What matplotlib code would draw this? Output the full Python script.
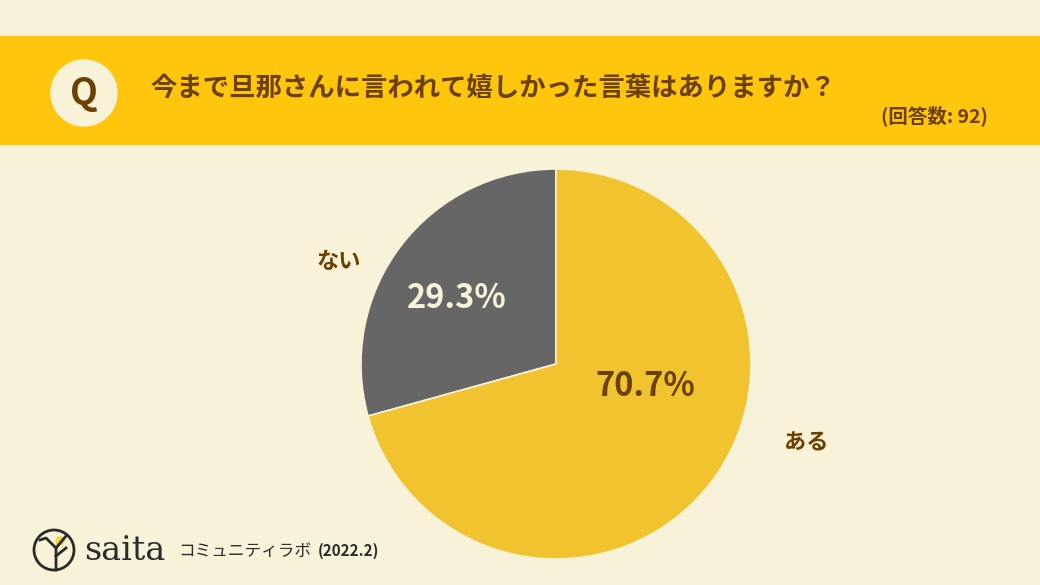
import matplotlib
matplotlib.use("Agg")
import matplotlib.pyplot as plt
from matplotlib.patches import Rectangle, Circle

plt.rcParams['font.family'] = ['Noto Sans CJK JP', 'DejaVu Sans']

# data
labels = ['ない', 'ある']
values = [29.3, 70.7]
colors = ['#666666', '#F0C32F']
title = '今まで旦那さんに言われて嬉しかった言葉はありますか？'
n_answers = '(回答数: 92)'
source = 'コミュニティラボ'
date = '(2022.2)'

W, H = 1040, 585
bg = '#F7F2D8'
brown = '#6B4000'

fig = plt.figure(figsize=(W / 100, H / 100), dpi=100, facecolor=bg)
ax = fig.add_axes([0, 0, 1, 1])
ax.set_xlim(0, W)
ax.set_ylim(0, H)
ax.set_aspect('equal')
ax.axis('off')


def Y(y):
    # pixel from top -> data y
    return H - y


# banner
ax.add_patch(Rectangle((0, Y(144)), W, 108, color='#FFC60D', zorder=1))
ax.add_patch(Circle((84, Y(93)), 33, color=bg, zorder=2))
ax.text(84, Y(93), 'Q', ha='center', va='center', fontsize=26,
        fontweight='bold', color=brown, zorder=3)
ax.text(150, Y(88), title, ha='left', va='center', fontsize=19,
        fontweight='bold', color=brown, zorder=3)
ax.text(988, Y(116), n_answers, ha='right', va='center', fontsize=14,
        fontweight='bold', color=brown, zorder=3)

# pie
wedges, _ = ax.pie(values, colors=colors, startangle=90, counterclock=True,
                   center=(556, Y(364)), radius=195,
                   wedgeprops=dict(edgecolor=bg, linewidth=1.2))
ax.set_xlim(0, W)
ax.set_ylim(0, H)

ax.text(457, Y(299), f'{values[0]}%', ha='center', va='center', fontsize=23.5,
        fontweight='bold', color='#F7F2D8')
ax.text(645, Y(387), f'{values[1]}%', ha='center', va='center', fontsize=23.5,
        fontweight='bold', color=brown)
ax.text(339, Y(261), labels[0], ha='center', va='center', fontsize=16,
        fontweight='bold', color=brown)
ax.text(806, Y(443), labels[1], ha='center', va='center', fontsize=16,
        fontweight='bold', color=brown)

# footer logo
ax.add_patch(Circle((54, Y(550)), 20, fill=False, edgecolor='#2B2B2B', lw=2))
ax.add_patch(Circle((60, Y(541)), 4, color='#F5D830', zorder=3))
ax.plot([56, 56, 66], [Y(570), Y(548), Y(536)], color='#2B2B2B', lw=2, zorder=4)
ax.plot([56, 46, 40], [Y(548), Y(538), Y(540)], color='#2B2B2B', lw=2, zorder=4)
ax.plot([56, 66], [Y(556), Y(548)], color='#2B2B2B', lw=2, zorder=4)
ax.text(84, Y(551), 'saita', ha='left', va='center', fontsize=24,
        color='#2B2B2B', family=['DejaVu Serif'])
ax.text(178, Y(551), source, ha='left', va='center', fontsize=12,
        color='#2B2B2B')
ax.text(318, Y(551), date, ha='left', va='center', fontsize=11,
        fontweight='bold', color='#2B2B2B')

fig.savefig('out.png', dpi=100, facecolor=bg)
